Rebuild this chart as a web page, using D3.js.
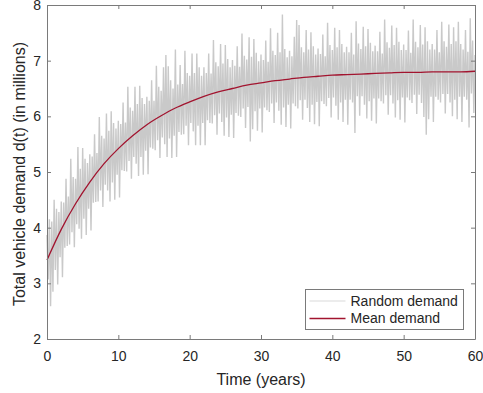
<!DOCTYPE html>
<html>
<head>
<meta charset="utf-8">
<script src="https://cdn.jsdelivr.net/npm/d3@7"></script>
<style>
  body { margin: 0; background: #fff; }
  svg { display: block; font-family: "Liberation Sans", Arial, sans-serif; }
  .axis text { fill: #262626; font-size: 14px; }
  .axis path, .axis line { stroke: #7a7a7a; }
</style>
</head>
<body>
<svg></svg>
<script>
// Mean demand, read every 2 years
const meanYears = [0, 2, 4, 6, 8, 10, 12, 14, 16, 18, 20, 22, 24, 26, 28, 30,
    32, 34, 36, 38, 40, 42, 44, 46, 48, 50, 52, 54, 56, 58, 60];
const meanDemand = [3.42, 3.97, 4.43, 4.82, 5.15, 5.42, 5.65, 5.85, 6.01, 6.15, 6.26,
    6.36, 6.44, 6.50, 6.56, 6.60, 6.64, 6.67, 6.70, 6.72, 6.74, 6.75, 6.76,
    6.77, 6.78, 6.79, 6.79, 6.80, 6.80, 6.80, 6.81];

// Random demand, read six times a year (t = 0, 1/6, 2/6, ...), one row per year
const randomStep = 1 / 6;
const randomDemand = [
    3.87, 3.07, 4.15, 2.59, 4.11, 2.85,
    4.50, 3.24, 4.34, 2.98, 4.28, 3.47,
    4.47, 3.11, 4.45, 3.64, 4.88, 3.67,
    4.56, 3.70, 5.24, 3.92, 4.91, 3.65,
    4.88, 4.06, 5.45, 3.98, 5.06, 3.80,
    5.43, 4.16, 5.24, 3.87, 5.16, 4.34,
    5.32, 3.95, 5.28, 4.45, 5.68, 4.46,
    5.34, 4.47, 5.99, 4.67, 5.65, 4.37,
    5.60, 4.77, 6.05, 4.67, 5.74, 4.47,
    6.09, 4.81, 5.88, 4.50, 5.78, 4.95,
    5.92, 4.54, 5.86, 5.03, 6.25, 5.02,
    5.89, 5.01, 6.53, 5.20, 6.16, 4.88,
    6.10, 5.27, 6.53, 5.15, 6.22, 4.93,
    6.55, 5.27, 6.33, 4.95, 6.22, 5.38,
    6.35, 4.96, 6.28, 5.44, 6.65, 5.42,
    6.28, 5.39, 6.91, 5.57, 6.53, 5.25,
    6.46, 5.62, 6.88, 5.50, 7.10, 5.27,
    6.90, 5.60, 6.65, 5.25, 6.50, 5.65,
    7.20, 5.27, 6.57, 5.72, 6.92, 5.67,
    6.58, 5.68, 7.18, 5.83, 6.78, 5.48,
    6.73, 5.88, 7.13, 5.73, 6.78, 5.48,
    7.13, 5.83, 6.88, 5.48, 6.73, 5.88,
    6.88, 5.48, 6.78, 5.93, 7.13, 5.88,
    6.77, 5.87, 7.37, 6.02, 6.97, 5.67,
    6.90, 6.05, 7.30, 5.90, 6.95, 5.65,
    7.28, 5.98, 7.03, 5.63, 6.88, 6.03,
    7.01, 5.61, 6.91, 6.06, 7.26, 6.01,
    6.89, 5.99, 7.49, 6.14, 7.09, 5.79,
    7.02, 6.17, 7.42, 5.55, 7.07, 5.77,
    7.39, 6.09, 7.14, 5.74, 6.99, 6.14,
    7.11, 5.71, 7.01, 6.16, 7.36, 6.11,
    6.98, 6.08, 7.58, 6.23, 7.18, 5.88,
    7.10, 6.25, 7.50, 6.10, 7.15, 5.85,
    7.83, 6.16, 7.21, 5.81, 7.06, 6.21,
    7.18, 5.78, 7.08, 6.23, 7.43, 6.18,
    7.73, 6.14, 7.64, 6.29, 7.24, 5.94,
    7.15, 6.30, 7.55, 6.15, 7.20, 5.90,
    7.51, 6.21, 7.26, 5.86, 7.11, 6.26,
    7.22, 5.82, 7.12, 6.27, 7.47, 6.22,
    7.08, 6.18, 7.68, 6.33, 7.28, 5.98,
    7.19, 6.34, 7.59, 6.19, 7.24, 5.94,
    7.55, 6.25, 7.30, 5.90, 7.15, 6.30,
    7.25, 5.85, 7.15, 6.30, 7.50, 6.25,
    7.11, 5.70, 7.71, 6.36, 7.31, 6.01,
    7.21, 6.36, 7.61, 6.21, 7.26, 5.96,
    7.57, 6.27, 7.32, 5.92, 7.17, 6.32,
    7.27, 5.87, 7.17, 6.32, 7.52, 6.27,
    7.13, 6.23, 7.74, 6.38, 7.33, 6.03,
    7.23, 6.38, 7.63, 6.23, 7.28, 5.98,
    7.59, 6.29, 7.34, 5.94, 7.19, 6.34,
    7.29, 5.89, 7.19, 6.34, 7.54, 6.29,
    7.14, 6.24, 7.74, 6.39, 7.34, 6.04,
    7.24, 6.39, 7.64, 6.24, 7.29, 5.99,
    7.60, 5.67, 7.35, 5.95, 7.20, 6.35,
    7.30, 5.90, 7.20, 6.35, 7.55, 6.30,
    7.15, 6.25, 7.70, 6.40, 7.35, 6.05,
    7.25, 6.40, 7.65, 6.25, 7.30, 6.00,
    7.60, 6.30, 7.35, 5.95, 7.70, 6.35,
    7.30, 5.90, 7.20, 6.35, 7.55, 6.30,
    7.16, 5.80, 7.76, 6.41, 7.36, 6.06,
    7.10
];

const xTicks = [0, 10, 20, 30, 40, 50, 60];
const yTicks = [2, 3, 4, 5, 6, 7, 8];
const legendLabels = ["Random demand", "Mean demand"];

const width = 483, height = 393;
const plotLeft = 47, plotRight = 475, plotTop = 5, plotBottom = 339;

const svg = d3.select("svg")
    .attr("width", width)
    .attr("height", height);

const x = d3.scaleLinear().domain([0, 60]).range([plotLeft, plotRight]);
const y = d3.scaleLinear().domain([2, 8]).range([plotBottom, plotTop]);

// Random demand (thin grey line)
const randomLine = d3.line()
    .x((d, i) => x(i * randomStep))
    .y(d => y(d));

svg.append("path")
    .datum(randomDemand)
    .attr("d", randomLine)
    .attr("fill", "none")
    .attr("stroke", "#c9c9c9")
    .attr("stroke-width", 1.4)
    .attr("stroke-linejoin", "bevel");

// Mean demand (red curve)
const meanLine = d3.line()
    .x((d, i) => x(meanYears[i]))
    .y(d => y(d))
    .curve(d3.curveMonotoneX);

svg.append("path")
    .datum(meanDemand)
    .attr("d", meanLine)
    .attr("fill", "none")
    .attr("stroke", "#a2142f")
    .attr("stroke-width", 1.3);

// Axes, ticks pointing inward on all four sides
svg.append("g")
    .attr("class", "axis")
    .attr("transform", `translate(0, ${plotBottom})`)
    .call(d3.axisBottom(x).tickValues(xTicks).tickFormat(d3.format("d"))
        .tickSizeInner(-4).tickSizeOuter(0).tickPadding(12.5));

svg.append("g")
    .attr("class", "axis")
    .attr("transform", `translate(${plotLeft}, 0)`)
    .call(d3.axisLeft(y).tickValues(yTicks).tickFormat(d3.format("d"))
        .tickSizeInner(-4).tickSizeOuter(0).tickPadding(6));

svg.append("g")
    .attr("class", "axis")
    .attr("transform", `translate(0, ${plotTop})`)
    .call(d3.axisTop(x).tickValues(xTicks).tickSizeInner(-4).tickSizeOuter(0).tickFormat(""));

svg.append("g")
    .attr("class", "axis")
    .attr("transform", `translate(${plotRight}, 0)`)
    .call(d3.axisRight(y).tickValues(yTicks).tickSizeInner(-4).tickSizeOuter(0).tickFormat(""));

svg.selectAll(".axis").attr("font-family", null).attr("font-size", null);

// Axis labels
svg.append("text")
    .attr("x", (plotLeft + plotRight) / 2)
    .attr("y", 385)
    .attr("text-anchor", "middle")
    .attr("fill", "#262626")
    .style("font-size", "16px")
    .text("Time (years)");

svg.append("text")
    .attr("transform", `translate(25, ${(plotTop + plotBottom) / 2 + 2}) rotate(-90)`)
    .attr("text-anchor", "middle")
    .attr("fill", "#262626")
    .style("font-size", "16px")
    .text("Total vehicle demand d(t) (in millions)");

// Legend
const legend = svg.append("g").attr("transform", "translate(305.5, 289.5)");

legend.append("rect")
    .attr("width", 158)
    .attr("height", 40)
    .attr("fill", "#fff")
    .attr("stroke", "#7a7a7a")
    .attr("stroke-width", 1);

const legendColors = ["#d9d9d9", "#a2142f"];
const legendWidths = [1, 1.5];

legendLabels.forEach((label, i) => {
    const ly = 11.5 + i * 17.5;
    legend.append("line")
        .attr("x1", 4).attr("x2", 40)
        .attr("y1", ly).attr("y2", ly)
        .attr("stroke", legendColors[i])
        .attr("stroke-width", legendWidths[i]);
    legend.append("text")
        .attr("x", 45)
        .attr("y", ly)
        .attr("dy", "0.35em")
        .attr("fill", "#262626")
        .style("font-size", "14px")
        .text(label);
});
</script>
</body>
</html>
